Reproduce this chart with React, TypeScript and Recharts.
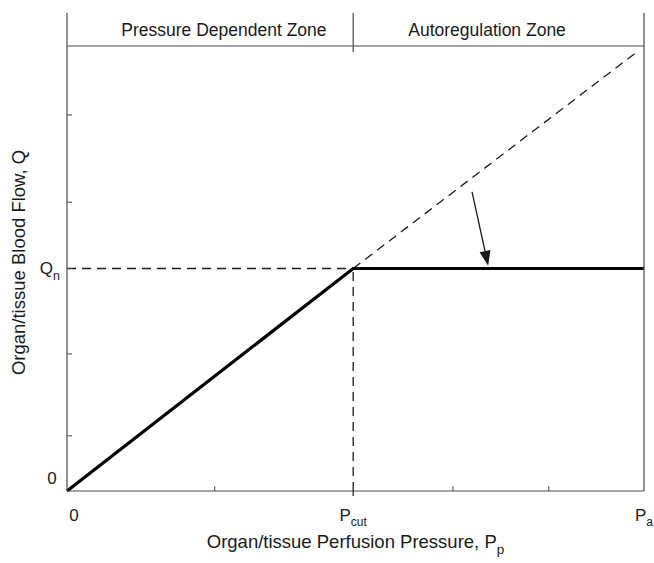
import { ComposedChart, Line, XAxis, YAxis, ReferenceLine } from "recharts";

// breakpoint of the autoregulation curve
const P_CUT = 49.6;
const Q_N = 50;

const xTicks = [0, 25.6, 49.6, 66.9, 83.5, 100];
const xTickMain = ["0", "", "P", "", "", "P"];
const xTickSub = ["", "", "cut", "", "", "a"];

const yTicks = [0, 12.4, 30.8, 50, 64.9, 84.5];
const yTickMain = ["0", "", "", "Q", "", ""];
const yTickSub = ["", "", "", "n", "", ""];

const zoneTicks = [0, 27.2, P_CUT, 72.8, 100];
const zoneLabels = ["", "Pressure Dependent Zone", "", "Autoregulation Zone", ""];

// flow curve (solid), passive pressure-flow line (dashed), guides
const curveX = [0, P_CUT, 100];
const curveY = [0, Q_N, Q_N];
const passiveX = [P_CUT, 99.1];
const passiveY = [Q_N, 99];
const qnGuideX = [0, P_CUT];
const qnGuideY = [Q_N, Q_N];
const pcutGuideX = [P_CUT, P_CUT];
const pcutGuideY = [0, Q_N];
const arrowX = [70.2, 73];
const arrowY = [67.2, 50.6];
const zoneSpanX = [0, 100];
const zoneSpanY = [0, 0];

const pts = (xs: number[], ys: number[]) => xs.map((x, i) => ({ x, y: ys[i] }));

const FONT = "'Liberation Sans', Arial, Helvetica, sans-serif";
const INK = "#1a1a1a";
const FRAME = "#4a4a4a";

function BottomTick(props: any) {
  const { x, y, payload } = props;
  const i = xTicks.indexOf(payload.value);
  const main = xTickMain[i];
  const sub = xTickSub[i];
  return (
    <g>
      {i === 2 && <line x1={x} x2={x} y1={y} y2={y + 5} stroke={INK} strokeWidth={1.2} />}
      {i > 0 && i < xTicks.length - 1 && i !== 2 && (
        <line x1={x} x2={x} y1={y} y2={y - 5} stroke={FRAME} strokeWidth={1} />
      )}
      {main && (
        <text x={x + (i === 0 ? 7 : 0)} y={y + 30} textAnchor="middle" fontSize={17} fill={INK} fontFamily={FONT}>
          {main}
          {sub && (
            <tspan dy={5} fontSize={12}>
              {sub}
            </tspan>
          )}
        </text>
      )}
    </g>
  );
}

function LeftTick(props: any) {
  const { x, y, payload } = props;
  const i = yTicks.indexOf(payload.value);
  const main = yTickMain[i];
  const sub = yTickSub[i];
  return (
    <g>
      {i > 0 && <line x1={x} x2={x + 5} y1={y} y2={y} stroke={FRAME} strokeWidth={1} />}
      {i === 0 && (
        <text x={x - 15} y={y - 7} textAnchor="middle" fontSize={17} fill={INK} fontFamily={FONT}>
          {main}
        </text>
      )}
      {i > 0 && main && (
        <text x={x - 7} y={y + 5} textAnchor="end" fontSize={17} fill={INK} fontFamily={FONT}>
          {main}
          <tspan dy={6} fontSize={12.5}>
            {sub}
          </tspan>
        </text>
      )}
    </g>
  );
}

function ZoneTick(props: any) {
  const { x, y, payload } = props;
  const i = zoneTicks.indexOf(payload.value);
  const label = zoneLabels[i];
  if (label) {
    return (
      <text x={x} y={y - 10} textAnchor="middle" fontSize={17.5} fill={INK} fontFamily={FONT}>
        {label}
      </text>
    );
  }
  return <line x1={x} x2={x} y1={y - 33} y2={y + (i === 2 ? 6 : 0)} stroke={FRAME} strokeWidth={1.2} />;
}

function ArrowShape(props: any) {
  const { x1, y1, x2, y2 } = props;
  const dx = x2 - x1;
  const dy = y2 - y1;
  const len = Math.sqrt(dx * dx + dy * dy) || 1;
  const ux = dx / len;
  const uy = dy / len;
  const head = 15;
  const half = 5.5;
  const bx = x2 - ux * head;
  const by = y2 - uy * head;
  const tri = `${x2},${y2} ${bx - uy * half},${by + ux * half} ${bx + uy * half},${by - ux * half}`;
  return (
    <g>
      <line x1={x1} y1={y1} x2={bx + ux * 2} y2={by + uy * 2} stroke={INK} strokeWidth={1.3} />
      <polygon points={tri} fill={INK} />
    </g>
  );
}

export default function App() {
  return (
    <div style={{ position: "absolute", left: 0, top: 0, background: "#fff" }}>
      <ComposedChart width={654} height={563} margin={{ top: 6, right: 9, bottom: 12, left: 7 }}>
        <XAxis
          xAxisId="zone"
          dataKey="x"
          orientation="top"
          type="number"
          domain={[0, 100]}
          ticks={zoneTicks}
          interval={0}
          height={40}
          tickSize={0}
          tickMargin={0}
          tickLine={false}
          axisLine={{ stroke: FRAME, strokeWidth: 1.2 }}
          tick={<ZoneTick />}
        />
        <XAxis
          dataKey="x"
          type="number"
          domain={[0, 100]}
          ticks={xTicks}
          interval={0}
          height={60}
          tickSize={0}
          tickMargin={0}
          tickLine={false}
          axisLine={{ stroke: FRAME, strokeWidth: 1.2 }}
          tick={<BottomTick />}
          label={{
            content: (p: any) => {
              const vb = p.viewBox;
              return (
                <text x={vb.x + vb.width / 2} y={vb.y + 57} textAnchor="middle" fontSize={18.5} fill={INK} fontFamily={FONT}>
                  Organ/tissue Perfusion Pressure, P
                  <tspan dy={6} fontSize={13.5}>
                    p
                  </tspan>
                </text>
              );
            },
          }}
        />
        <YAxis
          type="number"
          domain={[0, 100]}
          ticks={yTicks}
          interval={0}
          width={60}
          tickSize={0}
          tickMargin={0}
          tickLine={false}
          axisLine={{ stroke: FRAME, strokeWidth: 1.2 }}
          tick={<LeftTick />}
          label={{
            content: (p: any) => {
              const vb = p.viewBox;
              const cx = vb.x + 11;
              const cy = vb.y + vb.height / 2 - 6;
              return (
                <text x={cx} y={cy} transform={`rotate(-90 ${cx} ${cy})`} textAnchor="middle" dominantBaseline="central" fontSize={18.5} fill={INK} fontFamily={FONT}>
                  Organ/tissue Blood Flow, Q
                </text>
              );
            },
          }}
        />
        <YAxis
          yAxisId="right"
          orientation="right"
          type="number"
          domain={[0, 100]}
          width={1}
          tick={false}
          tickLine={false}
          axisLine={{ stroke: FRAME, strokeWidth: 1.2 }}
        />
        <Line xAxisId="zone" yAxisId="right" data={pts(zoneSpanX, zoneSpanY)} dataKey="y" stroke="none" dot={false} activeDot={false} isAnimationActive={false} />
        <Line data={pts(qnGuideX, qnGuideY)} dataKey="y" stroke={INK} strokeWidth={1.3} strokeDasharray="9 6" dot={false} activeDot={false} isAnimationActive={false} />
        <Line data={pts(pcutGuideX, pcutGuideY)} dataKey="y" stroke={INK} strokeWidth={1.3} strokeDasharray="9 6" dot={false} activeDot={false} isAnimationActive={false} />
        <Line data={pts(passiveX, passiveY)} dataKey="y" stroke={INK} strokeWidth={1.3} strokeDasharray="9 6" dot={false} activeDot={false} isAnimationActive={false} />
        <Line data={pts(curveX, curveY)} dataKey="y" stroke="#000" strokeWidth={3.2} dot={false} activeDot={false} isAnimationActive={false} />
        <ReferenceLine
          segment={[
            { x: arrowX[0], y: arrowY[0] },
            { x: arrowX[1], y: arrowY[1] },
          ]}
          shape={<ArrowShape />}
        />
      </ComposedChart>
    </div>
  );
}
